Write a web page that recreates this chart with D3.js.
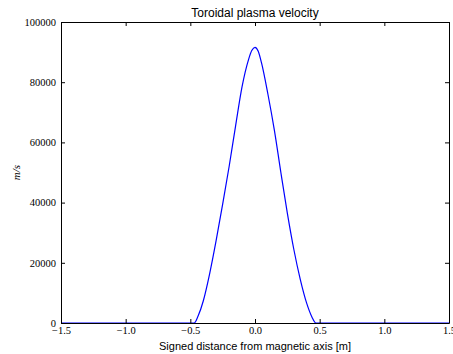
<!DOCTYPE html>
<html>
<head>
<meta charset="utf-8">
<script src="https://cdn.jsdelivr.net/npm/d3@7"></script>
<style>
  body { margin: 0; background: #fff; }
  svg { display: block; }
</style>
</head>
<body>
<div id="chart"></div>
<script>
// distance from magnetic axis [m]
var distance = [-1.5, -0.47, -0.44, -0.40, -0.35, -0.30, -0.25, -0.20, -0.15, -0.10, -0.05, -0.025, 0.0,
                0.025, 0.05, 0.10, 0.15, 0.20, 0.25, 0.30, 0.35, 0.40, 0.44, 0.47, 1.5]
// toroidal velocity [m/s]
var velocity = [0, 0, 2300, 7300, 16500, 27500, 39500, 52000, 65500, 78500, 87500, 90500, 91600,
                90300, 86500, 76000, 64000, 50000, 36500, 24500, 14500, 6500, 2000, 0, 0]

var xTicks = [-1.5, -1.0, -0.5, 0.0, 0.5, 1.0, 1.5]
var yTicks = [0, 20000, 40000, 60000, 80000, 100000]

var width = 453, height = 354
var margin = {top: 22, right: 4, bottom: 31, left: 61}
var w = width - margin.left - margin.right,
    h = height - margin.top - margin.bottom

var svg = d3.select("#chart").append("svg")
    .attr("width", width)
    .attr("height", height)

var g = svg.append("g")
    .attr("transform", "translate(" + margin.left + "," + margin.top + ")")

var x = d3.scaleLinear().domain([-1.5, 1.5]).range([0, w])
var y = d3.scaleLinear().domain([0, 100000]).range([h, 0])

var fmtX = function(d) { return d3.format(".1f")(d).replace("-", "\u2212") }

// line
var line = d3.line()
  .x(function(d, i) { return x(distance[i]) })
  .y(function(d) { return y(d) })
  .curve(d3.curveMonotoneX)

g.append("path")
  .datum(velocity)
  .attr("d", line)
  .style("fill", "none")
  .style("stroke", "#0000ff")
  .style("stroke-width", 1.2)

// axes, ticks inward on all four sides
var bottom = g.append("g").attr("transform", "translate(0," + h + ")")
  .call(d3.axisBottom(x).tickValues(xTicks).tickSizeInner(-4).tickSizeOuter(0).tickPadding(4).tickFormat(fmtX))
var top = g.append("g")
  .call(d3.axisTop(x).tickValues(xTicks).tickSizeInner(-4).tickSizeOuter(0).tickFormat(""))
var left = g.append("g")
  .call(d3.axisLeft(y).tickValues(yTicks).tickSizeInner(-4).tickSizeOuter(0).tickPadding(5).tickFormat(d3.format("d")))
var right = g.append("g").attr("transform", "translate(" + w + ",0)")
  .call(d3.axisRight(y).tickValues(yTicks).tickSizeInner(-4).tickSizeOuter(0).tickFormat(""))

g.selectAll(".domain").style("stroke", "#000").style("stroke-width", 1)
g.selectAll(".tick line").style("stroke", "#000")
g.selectAll(".tick text")
  .style("font-family", "'Liberation Serif', 'DejaVu Serif', serif")
  .style("font-size", "10.5px")
  .style("fill", "#000")

// title and labels
svg.append("text")
  .attr("x", margin.left + w / 2)
  .attr("y", margin.top - 5)
  .attr("text-anchor", "middle")
  .style("font-family", "'Liberation Sans', Arial, sans-serif")
  .style("font-size", "12px")
  .text("Toroidal plasma velocity")

svg.append("text")
  .attr("x", margin.left + w / 2)
  .attr("y", height - 4)
  .attr("text-anchor", "middle")
  .style("font-family", "'Liberation Sans', Arial, sans-serif")
  .style("font-size", "11px")
  .text("Signed distance from magnetic axis [m]")

svg.append("text")
  .attr("transform", "translate(20," + (margin.top + h / 2) + ") rotate(-90)")
  .attr("text-anchor", "middle")
  .style("font-family", "'Liberation Serif', serif")
  .style("font-style", "italic")
  .style("font-size", "11px")
  .text("m/s")
</script>
</body>
</html>
